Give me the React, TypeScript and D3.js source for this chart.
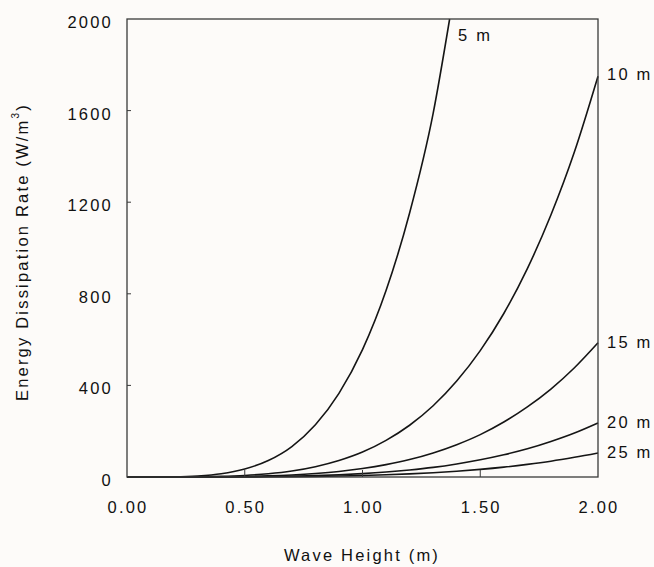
import React, { useEffect, useRef } from 'react';
import * as d3 from 'd3';

// wave height (m) sample points
const heights = [0, 0.1, 0.2, 0.3, 0.4, 0.5, 0.6, 0.7, 0.8, 0.9, 1.0, 1.1, 1.2, 1.3, 1.4, 1.5, 1.6, 1.7, 1.8, 1.9, 2.0];

// energy dissipation rate (W/m^3)
const depth5 = [0, 0.1, 0.9, 4.5, 14, 35, 72, 133, 228, 365, 556, 814, 1153, 1588, 2000];
const heights5 = [0, 0.1, 0.2, 0.3, 0.4, 0.5, 0.6, 0.7, 0.8, 0.9, 1.0, 1.1, 1.2, 1.3, 1.37];
const depth10 = [0, 0, 0.2, 0.9, 2.8, 6.8, 14, 26, 45, 72, 109, 160, 226, 311, 419, 552, 714, 910, 1144, 1420, 1750];
const depth15 = [0, 0, 0.1, 0.3, 0.9, 2.3, 4.7, 8.8, 15, 24, 37, 54, 76, 105, 141, 185, 240, 306, 384, 477, 586];
const depth20 = [0, 0, 0, 0.1, 0.4, 0.9, 1.9, 3.5, 6, 9.7, 14.8, 21.6, 30.6, 42, 57, 75, 97, 123, 155, 192, 236];
const depth25 = [0, 0, 0, 0.1, 0.2, 0.4, 0.85, 1.6, 2.7, 4.3, 6.6, 9.6, 13.6, 18.7, 25.2, 33.2, 43, 55, 69, 86, 105];

const seriesLabels = ['5 m', '10 m', '15 m', '20 m', '25 m'];
const xTicks = [0, 0.5, 1.0, 1.5, 2.0];
const yTicks = [0, 400, 800, 1200, 1600, 2000];

const W = 654;
const H = 567;
const margin = { left: 127, right: 56, top: 19, bottom: 90 };
const FONT = 'Liberation Sans, Arial, sans-serif';

export default function App() {
  const svgRef = useRef<SVGSVGElement>(null);

  useEffect(() => {
    const svg = d3.select(svgRef.current);
    svg.selectAll('*').remove();

    const x = d3.scaleLinear().domain([0, 2]).range([margin.left, W - margin.right]);
    const y = d3.scaleLinear().domain([0, 2000]).range([H - margin.bottom, margin.top]);

    svg.append('rect').attr('width', W).attr('height', H).attr('fill', '#fdfbf9');

    const series = [
      { name: seriesLabels[0], xs: heights5, ys: depth5 },
      { name: seriesLabels[1], xs: heights, ys: depth10 },
      { name: seriesLabels[2], xs: heights, ys: depth15 },
      { name: seriesLabels[3], xs: heights, ys: depth20 },
      { name: seriesLabels[4], xs: heights, ys: depth25 },
    ];

    const line = d3
      .line<[number, number]>()
      .x((d) => x(d[0]))
      .y((d) => y(d[1]))
      .curve(d3.curveMonotoneX);

    series.forEach((s) => {
      const pts = s.xs.map((h, i) => [h, s.ys[i]] as [number, number]);
      svg
        .append('path')
        .attr('d', line(pts))
        .attr('fill', 'none')
        .attr('stroke', '#151515')
        .attr('stroke-width', 1.6);
    });

    // frame
    const x0 = x(0), x1 = x(2), y0 = y(0), y1 = y(2000);
    svg
      .append('rect')
      .attr('x', x0)
      .attr('y', y1)
      .attr('width', x1 - x0)
      .attr('height', y0 - y1)
      .attr('fill', 'none')
      .attr('stroke', '#3a3a3a')
      .attr('stroke-width', 1.3);

    // inward ticks
    yTicks.slice(1, -1).forEach((t) => {
      svg.append('line').attr('x1', x0).attr('x2', x0 + 4).attr('y1', y(t)).attr('y2', y(t))
        .attr('stroke', '#3a3a3a').attr('stroke-width', 1);
    });
    xTicks.slice(1, -1).forEach((t) => {
      svg.append('line').attr('x1', x(t)).attr('x2', x(t)).attr('y1', y0).attr('y2', y0 - 7)
        .attr('stroke', '#3a3a3a').attr('stroke-width', 1);
    });

    const txt = (sel: any) =>
      sel.attr('font-family', FONT).attr('font-size', 16.5).attr('letter-spacing', 2.2).attr('fill', '#111');

    yTicks.forEach((t) => {
      svg.append('text').call(txt)
        .attr('x', 113).attr('y', y(t) + 3)
        .attr('text-anchor', 'end').attr('dominant-baseline', 'central')
        .text(String(t));
    });
    xTicks.forEach((t) => {
      svg.append('text').call(txt)
        .attr('x', x(t) + 1).attr('y', 507)
        .attr('text-anchor', 'middle').attr('dominant-baseline', 'central')
        .text(d3.format('.2f')(t));
    });

    // curve labels
    const labelPos = [
      { px: 458, v: 2000, dy: 16 },
      { px: 607, v: depth10[depth10.length - 1], dy: -2 },
      { px: 607, v: depth15[depth15.length - 1], dy: -1 },
      { px: 607, v: depth20[depth20.length - 1], dy: -1 },
      { px: 607, v: depth25[depth25.length - 1], dy: -1 },
    ];
    labelPos.forEach((p, i) => {
      svg.append('text').call(txt)
        .attr('x', p.px).attr('y', y(p.v) + p.dy)
        .attr('dominant-baseline', 'central')
        .text(seriesLabels[i]);
    });

    // axis titles
    svg.append('text').call(txt)
      .attr('x', 362).attr('y', 555)
      .attr('text-anchor', 'middle').attr('dominant-baseline', 'central')
      .text('Wave Height (m)');

    const yt = svg.append('text').call(txt)
      .attr('transform', `translate(22,252) rotate(-90)`)
      .attr('text-anchor', 'middle').attr('dominant-baseline', 'central');
    yt.append('tspan').text('Energy Dissipation Rate (W/m');
    yt.append('tspan').attr('font-size', 10).attr('dy', -7).text('3');
    yt.append('tspan').attr('dy', 7).text(')');
  }, []);

  return (
    <svg
      ref={svgRef}
      width={W}
      height={H}
      style={{ position: 'absolute', left: 0, top: 0, display: 'block' }}
    />
  );
}
